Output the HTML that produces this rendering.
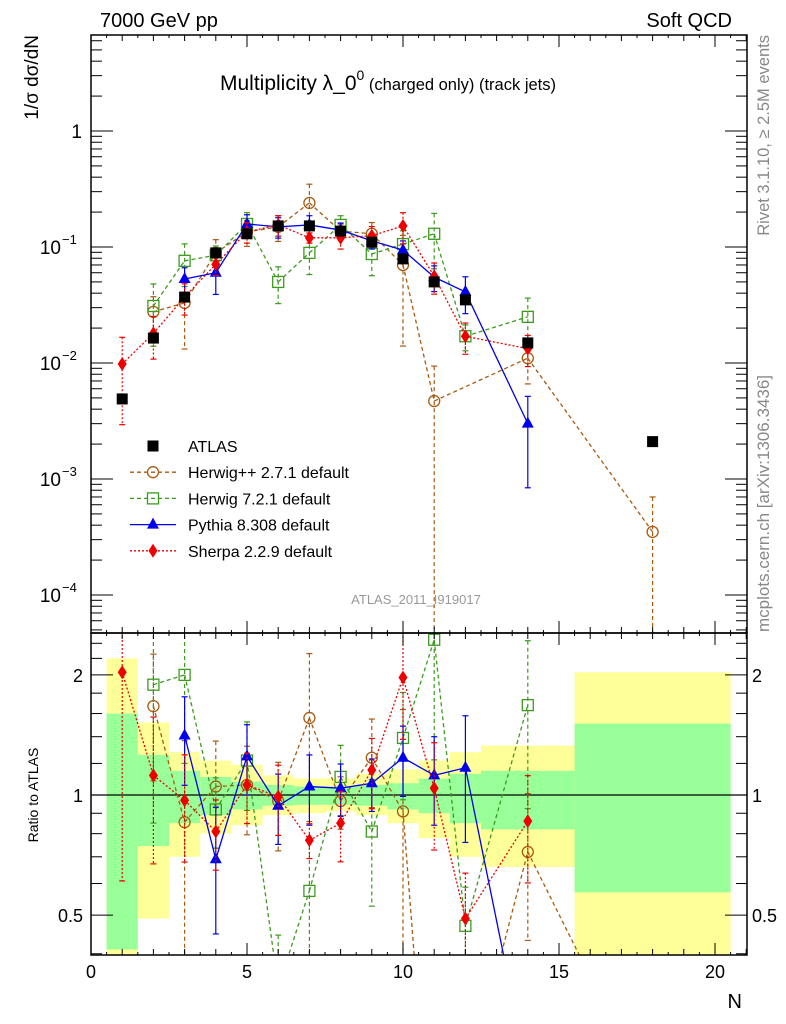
<!DOCTYPE html>
<html><head><meta charset="utf-8"><style>
html,body{margin:0;background:#fff;overflow:hidden;width:786px;height:1024px}
svg{display:block;font-family:"Liberation Sans","DejaVu Sans",sans-serif}
</style></head><body>
<svg id="c" width="786" height="1024" viewBox="0 0 786 1024">
<text x="100" y="27" font-size="20">7000 GeV pp</text>
<text x="732" y="27" font-size="20" text-anchor="end">Soft QCD</text>
<text x="220" y="90" font-size="21">Multiplicity λ_0<tspan font-size="14" dy="-10">0</tspan><tspan font-size="16.5" dy="10"> (charged only) (track jets)</tspan></text>
<text transform="translate(38,35) rotate(-90)" font-size="19" text-anchor="end">1/σ dσ/dN</text>
<text transform="translate(38,795) rotate(-90)" font-size="14" text-anchor="middle">Ratio to ATLAS</text>
<text x="742" y="1008" font-size="20" text-anchor="end">N</text>
<text transform="translate(769,35) rotate(-90)" font-size="16.5" fill="#888" text-anchor="end">Rivet 3.1.10, ≥ 2.5M events</text>
<text transform="translate(769,632) rotate(-90)" font-size="17" fill="#888">mcplots.cern.ch [arXiv:1306.3436]</text>
<text x="416" y="604" font-size="13" fill="#999" text-anchor="middle">ATLAS_2011_I919017</text>
<g id="bands"></g><g id="marks"></g><g id="axes"></g><g id="legend"></g>
</svg>
<script>
const atlasN=[1,2,3,4,5,6,7,8,9,10,11,12,14,18];
const atlasV=[0.0049,0.0164,0.037,0.089,0.13,0.152,0.152,0.137,0.11,0.079,0.05,0.035,0.0149,0.0021];
const bandLo=[0.5,1.5,2.5,3.5,4.5,5.5,6.5,7.5,8.5,9.5,10.5,11.5,12.5,15.5];
const bandHi=[1.5,2.5,3.5,4.5,5.5,6.5,7.5,8.5,9.5,10.5,11.5,12.5,15.5,20.5];
const yelUp=[2.2,1.52,1.28,1.22,1.19,1.12,1.10,1.10,1.13,1.16,1.22,1.28,1.33,2.03];
const grnUp=[1.6,1.26,1.15,1.11,1.08,1.06,1.05,1.05,1.06,1.07,1.10,1.13,1.15,1.51];
const grnDn=[0.41,0.745,0.85,0.89,0.92,0.94,0.945,0.945,0.94,0.92,0.90,0.85,0.82,0.57];
const yelDn=[0.3,0.49,0.70,0.80,0.84,0.89,0.90,0.91,0.89,0.85,0.78,0.70,0.66,0.3];
const hppN=[2,3,4,5,6,7,8,9,10,11,14,18];
const hppV=[0.0276,0.033,0.089,0.135,0.149,0.24,0.137,0.13,0.07,0.0047,0.011,0.00035];
const hppR=[1.67,0.855,1.05,1.06,0.966,1.56,0.966,1.24,0.91,0.09,0.72,0.17];
const hppE=[0.35,0.6,0.3,0.25,0.25,0.45,0.15,0.25,0.8,1.0,0.4,1.0];
const h7N=[2,3,4,5,6,7,8,9,10,11,12,14];
const h7V=[0.031,0.076,0.085,0.158,0.05,0.089,0.155,0.087,0.106,0.13,0.017,0.025];
const h7R=[1.89,2.0,0.92,1.22,0.33,0.575,1.11,0.81,1.39,2.45,0.47,1.68];
const h7E=[0.55,0.4,0.2,0.25,0.35,0.35,0.2,0.35,0.3,0.5,0.25,0.45];
const pyN=[3,4,5,6,7,8,9,10,11,12,14];
const pyV=[0.053,0.06,0.158,0.149,0.155,0.14,0.113,0.094,0.055,0.041,0.003];
const pyR=[1.41,0.69,1.25,0.94,1.05,1.04,1.07,1.24,1.12,1.17,0.2];
const pyE=[0.25,0.35,0.2,0.2,0.2,0.15,0.15,0.2,0.25,0.35,0.72];
const shN=[1,2,3,4,5,6,7,8,9,10,11,12,14];
const shV=[0.0098,0.018,0.037,0.071,0.135,0.155,0.12,0.12,0.125,0.152,0.056,0.017,0.0133];
const shR=[2.03,1.12,0.97,0.81,1.06,0.99,0.77,0.85,1.155,1.97,1.04,0.49,0.86];
const shE=[0.7,0.4,0.3,0.2,0.2,0.2,0.1,0.2,0.2,0.3,0.3,0.3,0.3];
const legendLabels=["ATLAS","Herwig++ 2.7.1 default","Herwig 7.2.1 default","Pythia 8.308 default","Sherpa 2.2.9 default"];
const xTicks=[0,5,10,15,20];
const yTicks=[1,0.1,0.01,0.001,0.0001];
const yTickLabels=["1","10","10","10","10"];
const yTickExp=["","−1","−2","−3","−4"];
const rTicks=[0.5,1,2];
const rTickLabels=["0.5","1","2"];

const L=91,R=747,T=35,M=633,B=955;
const NS="http://www.w3.org/2000/svg";
function X(v){return L+(v-0)*31.2;}
function Y(v){return 131-116*Math.log10(v);}
function RY(v){return 795-399*Math.log10(v);}
function mk(tag,attrs,parent){const e=document.createElementNS(NS,tag);for(const k in attrs)e.setAttribute(k,attrs[k]);parent.appendChild(e);return e;}
const gB=document.getElementById('bands'),gM=document.getElementById('marks'),gA=document.getElementById('axes'),gL=document.getElementById('legend');
function clampY(y,top,bot){return Math.max(top,Math.min(bot,y));}
for(let i=0;i<bandLo.length;i++){
  const x0=X(bandLo[i]),x1=X(bandHi[i]);
  const y1=mk('rect',{x:x0,y:clampY(RY(yelUp[i]),M,B),width:x1-x0,height:clampY(RY(yelDn[i]),M,B)-clampY(RY(yelUp[i]),M,B),fill:'#ffff99'},gB);
  
  
  const g1=mk('rect',{x:x0,y:clampY(RY(grnUp[i]),M,B),width:x1-x0,height:clampY(RY(grnDn[i]),M,B)-clampY(RY(grnUp[i]),M,B),fill:'#99ff99'},gB);
  
  
}
const ln=mk('line',{x1:L,x2:R,y1:RY(1),y2:RY(1),stroke:'#000','stroke-width':1.2},gB);


const defs=mk('defs',{},gM);
const c1=mk('clipPath',{id:'cu'},defs);mk('rect',{x:L,y:T,width:R-L,height:M-T},c1);
const c2=mk('clipPath',{id:'cl'},defs);mk('rect',{x:L,y:M,width:R-L,height:B-M},c2);
function marker(g,type,x,y,color){
  let e;
  if(type==='sq')e=mk('rect',{x:x-5.5,y:y-5.5,width:11,height:11,fill:'#000'},g);
  else if(type==='circ')e=mk('circle',{cx:x,cy:y,r:5.5,fill:'none',stroke:color,'stroke-width':1.3},g);
  else if(type==='osq')e=mk('rect',{x:x-5.5,y:y-5.5,width:11,height:11,fill:'none',stroke:color,'stroke-width':1.3},g);
  else if(type==='tri')e=mk('polygon',{points:`${x},${y-7} ${x-6},${y+4} ${x+6},${y+4}`,fill:color},g);
  else e=mk('polygon',{points:`${x},${y-7} ${x-4.5},${y} ${x},${y+7} ${x+4.5},${y}`,fill:color},g);
  return e;
}
// clip a segment to y-range [lo,hi]; returns null if fully outside
function clipSeg(x1,y1,x2,y2,lo,hi){
  function at(y){return x1+(x2-x1)*(y-y1)/(y2-y1);}
  if((y1<lo&&y2<lo)||(y1>hi&&y2>hi))return null;
  let a=[x1,y1],b=[x2,y2];
  if(y1<lo){a=[at(lo),lo];} if(y1>hi){a=[at(hi),hi];}
  if(y2<lo){b=[at(lo),lo];} if(y2>hi){b=[at(hi),hi];}
  return [a,b];
}
function series(name,Ns,vals,errs,yf,color,dash,type,clip,top,bot){
  const g=mk('g',{'clip-path':`url(#${clip})`},gM);
  
  
  if(dash!==null){
    for(let i=0;i+1<Ns.length;i++){
      const s=clipSeg(X(Ns[i]),yf(vals[i]),X(Ns[i+1]),yf(vals[i+1]),top-5,bot+5);
      if(s)mk('line',{x1:s[0][0],y1:s[0][1],x2:s[1][0],y2:s[1][1],stroke:color,'stroke-width':1.3,'stroke-dasharray':dash},g);
    }
  }
  Ns.forEach((n,i)=>{
    const x=X(n),y=yf(vals[i]);
    if(errs){
      const upRaw=yf(vals[i]*(1+errs[i]));
      const dnRaw=errs[i]>=1?bot+5:yf(vals[i]*(1-errs[i]));
      const up=clampY(upRaw,top-5,bot+5),dn=clampY(dnRaw,top-5,bot+5);
      if(dn>up)mk('line',{x1:x,x2:x,y1:up,y2:dn,stroke:color,'stroke-width':1.2,'stroke-dasharray':dash||''},g);
      if(upRaw>=top&&upRaw<=bot)mk('line',{x1:x-3,x2:x+3,y1:up,y2:up,stroke:color,'stroke-width':1.2},g);
      if(dnRaw>=top&&dnRaw<=bot)mk('line',{x1:x-3,x2:x+3,y1:dn,y2:dn,stroke:color,'stroke-width':1.2},g);
    }
    if(y>=top-8&&y<=bot+8){
      const m=marker(g,type,x,y,color);
      
      
    }
  });
}
const C={h:'#a85a0f',g:'#3c9b1e',p:'#0000ee',s:'#ee0000'};
series('herwigpp-series',hppN,hppV,hppE,Y,C.h,'4,3','circ','cu',T,M);
series('herwig7-series',h7N,h7V,h7E,Y,C.g,'4,3','osq','cu',T,M);
series('pythia-series',pyN,pyV,pyE,Y,C.p,'','tri','cu',T,M);
series('sherpa-series',shN,shV,shE,Y,C.s,'2,2','dia','cu',T,M);
series('atlas-data',atlasN,atlasV,null,Y,'#000',null,'sq','cu',T,M);
series('herwigpp-ratio',hppN,hppR,hppE,RY,C.h,'4,3','circ','cl',M,B);
series('herwig7-ratio',h7N,h7R,h7E,RY,C.g,'4,3','osq','cl',M,B);
series('pythia-ratio',pyN,pyR,pyE,RY,C.p,'','tri','cl',M,B);
series('sherpa-ratio',shN,shR,shE,RY,C.s,'2,2','dia','cl',M,B);
const f1=mk('rect',{x:L,y:T,width:R-L,height:M-T,fill:'none',stroke:'#000','stroke-width':1.5},gA);


const f2=mk('rect',{x:L,y:M,width:R-L,height:B-M,fill:'none',stroke:'#000','stroke-width':1.5},gA);


function tick(x1,y1,x2,y2){mk('line',{x1,y1,x2,y2,stroke:'#000','stroke-width':1},gA);}
for(let n=0;n<=21;n++){const x=X(n);if(x>R)break;const maj=n%5===0;const l=maj?12:6;
  tick(x,T,x,T+l);tick(x,M,x,M-l);tick(x,M,x,M+l);tick(x,B,x,B-l);}
for(let n=0.5;n<21;n+=1){const x=X(n);if(x>R)break;tick(x,T,x,T+3);tick(x,M,x,M-3);tick(x,M,x,M+3);tick(x,B,x,B-3);}
xTicks.forEach(t=>{const e=mk('text',{x:X(t),y:978,'font-size':18,'text-anchor':'middle'},gA);e.textContent=t;
  
  });
for(let d=-5;d<=0;d++)for(let k=1;k<10;k++){const v=k*Math.pow(10,d);const y=Y(v);if(y<T||y>M)continue;const l=k===1?22:11;
  tick(L,y,L+l,y);tick(R,y,R-l,y);}
yTicks.forEach((t,i)=>{
  const e=mk('text',{x:yTickExp[i]?61:82,y:Y(t)+7,'font-size':19,'text-anchor':'end'},gA);e.textContent=yTickLabels[i];
  
  
  if(yTickExp[i]){const s=mk('text',{x:62,y:Y(t)-3,'font-size':13},gA);s.textContent=yTickExp[i];
    
    }});
[0.4,0.5,0.6,0.7,0.8,0.9,1,1.2,1.4,1.6,1.8,2,2.2,2.4].forEach(v=>{const y=RY(v);const maj=rTicks.includes(v);const l=maj?22:11;tick(L,y,L+l,y);tick(R,y,R-l,y);});
rTicks.forEach((t,i)=>{const y=RY(t)+7;
  const a=mk('text',{x:83,y,'font-size':18,'text-anchor':'end'},gA);a.textContent=rTickLabels[i];
  
  
  const b=mk('text',{x:752,y,'font-size':18},gA);b.textContent=rTickLabels[i];
  
  });
const lt=['sq','circ','osq','tri','dia'],lc=['#000',C.h,C.g,C.p,C.s],ld=[null,'4,3','4,3','','2,2'];
legendLabels.forEach((s,i)=>{const y=446+i*26.2;const g=mk('g',{},gL);
  
  
  if(ld[i]!==null)mk('line',{x1:130,x2:176,y1:y,y2:y,stroke:lc[i],'stroke-width':1.3,'stroke-dasharray':ld[i]},g);
  marker(g,lt[i],153,y,lc[i]);
  const t=mk('text',{x:188,y:y+6,'font-size':16},g);t.textContent=s;});
</script>
</body></html>
